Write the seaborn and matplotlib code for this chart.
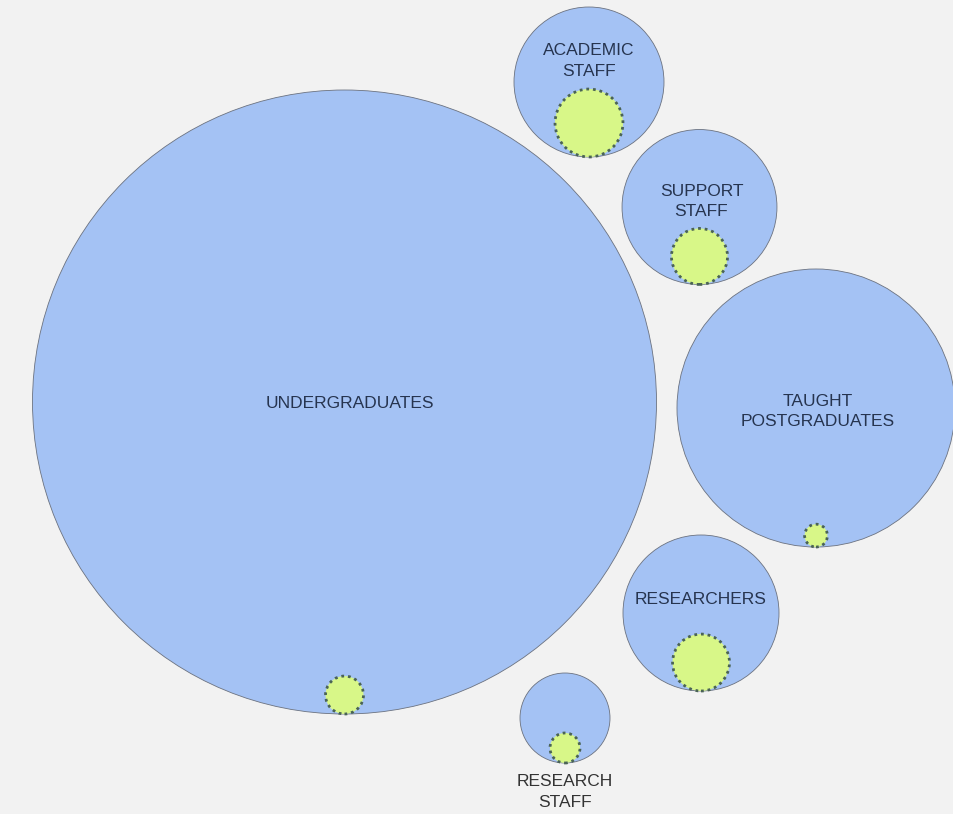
import numpy as np
import pandas as pd
import matplotlib
matplotlib.use("Agg")
import matplotlib.pyplot as plt
import seaborn as sns

# ---- data ----
categories = ["UNDERGRADUATES", "ACADEMIC\nSTAFF", "SUPPORT\nSTAFF",
              "TAUGHT\nPOSTGRADUATES", "RESEARCHERS", "RESEARCH\nSTAFF"]
totals = [19470, 1125, 1200, 3865, 1217, 405]
subset = [72, 231, 157, 26, 162, 45]

# ---- layout (bubble centres in pixel space, label offsets) ----
centre_x = [344.5, 589, 699.5, 816, 701, 565]
centre_y = [402, 82, 207, 408, 613, 718]
label_dx = [5, 0, 2, 2, 0, 0]
label_dy = [1, -21, -5.5, 3.5, -13, 74]
label_outside = [False, False, False, False, False, True]

W, H, DPI = 954, 814, 100
K = 312 / np.sqrt(19470)  # px per sqrt(unit)

sns.set_theme(style="white")
plt.rcParams["font.family"] = ["Liberation Sans", "DejaVu Sans"]

fig = plt.figure(figsize=(W / DPI, H / DPI), dpi=DPI, facecolor="#f2f2f2")
ax = fig.add_axes([0, 0, 1, 1])
ax.set_facecolor("#f2f2f2")

tot = np.array(totals, float)
sub = np.array(subset, float)
R = K * np.sqrt(tot)
r = K * np.sqrt(sub)
cx = np.array(centre_x, float)
cy = np.array(centre_y, float)

def area_pt2(rad_px):
    return (2 * rad_px * 72 / DPI) ** 2

df_big = pd.DataFrame({"x": cx, "y": cy, "s": area_pt2(R), "cat": categories})
df_small = pd.DataFrame({"x": cx, "y": cy + R - r, "s": area_pt2(r), "cat": categories})

smin, smax = df_big["s"].min(), df_big["s"].max()
sns.scatterplot(data=df_big, x="x", y="y", size="s", sizes=(smin, smax),
                size_norm=(smin, smax), color="#a4c2f4", edgecolor="#6b7280",
                linewidth=0.6, legend=False, ax=ax, zorder=2)
tmin, tmax = df_small["s"].min(), df_small["s"].max()
sns.scatterplot(data=df_small, x="x", y="y", size="s", sizes=(tmin, tmax),
                size_norm=(tmin, tmax), color="#d8f788", edgecolor="#4a6355",
                linewidth=2.0, linestyle=(0, (1, 1.4)), legend=False, ax=ax, zorder=3)

for i, cat in enumerate(categories):
    col = "#333333" if label_outside[i] else "#26344f"
    ax.text(cx[i] + label_dx[i], cy[i] + label_dy[i], cat, ha="center", va="center",
            fontsize=12.5, color=col, linespacing=1.5, zorder=4)

ax.set_xlim(0, W)
ax.set_ylim(H, 0)
ax.set_axis_off()
fig.savefig("out.png", dpi=DPI, facecolor="#f2f2f2")
